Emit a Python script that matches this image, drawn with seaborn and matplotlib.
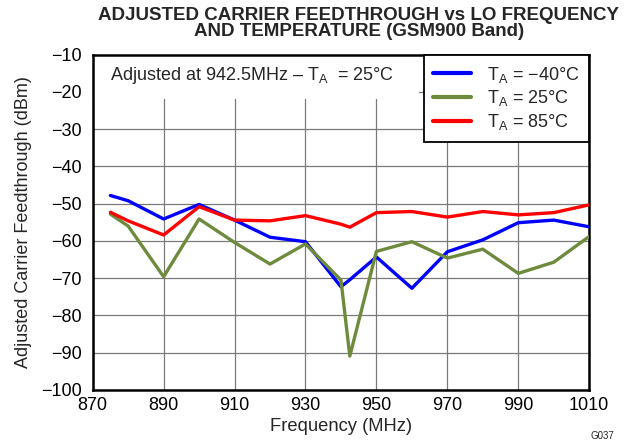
"""
Adjusted carrier feedthrough vs LO frequency and temperature (GSM900 band).
"""

import numpy as np
import pandas as pd
import matplotlib
matplotlib.use('Agg')
import matplotlib.pyplot as plt
import seaborn as sns
from matplotlib.patches import Rectangle

# Data
freq_mhz = [875, 880, 890, 900, 910, 920, 930, 940, 942.5, 950, 960, 970, 980, 990, 1000, 1010]
cf_m40 = [-47.8, -49.2, -54.1, -50.2, -54.4, -59.0, -60.2, -72.3, -70.4, -64.3,
          -72.7, -62.9, -59.7, -55.1, -54.4, -56.2]
cf_25 = [-52.8, -56.0, -69.6, -54.1, -60.4, -66.2, -60.8, -70.5, -90.9, -62.8,
         -60.2, -64.6, -62.2, -68.7, -65.7, -58.8]
cf_85 = [-52.3, -54.6, -58.4, -50.8, -54.4, -54.6, -53.2, -55.5, -56.3, -52.4,
         -52.1, -53.6, -52.1, -53.0, -52.4, -50.3]

series_labels = [r'T$_\mathregular{A}$ = −40°C', r'T$_\mathregular{A}$ = 25°C', r'T$_\mathregular{A}$ = 85°C']
series_colors = ['#0000FF', '#6E8B3D', '#FF0000']
x_ticks = [870, 890, 910, 930, 950, 970, 990, 1010]
y_ticks = [-100, -90, -80, -70, -60, -50, -40, -30, -20, -10]

# Long-form table for seaborn
df = pd.concat([
    pd.DataFrame({'freq': freq_mhz, 'cf': vals, 'temp': lab})
    for vals, lab in zip([cf_m40, cf_25, cf_85], series_labels)
], ignore_index=True)

sns.set_style('white')
plt.rcParams['font.family'] = ['Liberation Sans', 'DejaVu Sans']
plt.rcParams['mathtext.fontset'] = 'custom'
plt.rcParams['mathtext.rm'] = 'Liberation Sans'
plt.rcParams['mathtext.it'] = 'Liberation Sans:italic'
plt.rcParams['mathtext.bf'] = 'Liberation Sans:bold'

fig = plt.figure(figsize=(6.37, 4.46), dpi=100)
ax = fig.add_axes([0.1455, 0.1256, 0.7795, 0.7518])

sns.lineplot(data=df, x='freq', y='cf', hue='temp', hue_order=series_labels,
             palette=series_colors, linewidth=2.4, ax=ax, sort=False, zorder=3)

ax.set_xlim(870, 1010)
ax.set_ylim(-100, -10)
ax.set_xticks(x_ticks)
ax.set_yticks(y_ticks)
ax.tick_params(axis='both', labelsize=13, length=0, colors='black')
ax.tick_params(axis='x', pad=5)
ax.tick_params(axis='y', pad=8)
ax.grid(True, color='#7a7a7a', linewidth=0.9, zorder=0)
ax.set_axisbelow(True)
for sp in ax.spines.values():
    sp.set_color('black')
    sp.set_linewidth(1.8)

ax.set_xlabel('Frequency (MHz)', fontsize=13.2, labelpad=3)
ax.set_ylabel('Adjusted Carrier Feedthrough (dBm)', fontsize=13, labelpad=6)

# White panel behind the note in the top-left corner
ax.add_patch(Rectangle((0, 0.868), 0.657, 0.132, transform=ax.transAxes,
                       facecolor='white', edgecolor='none', zorder=2))
ax.text(0.035, 0.925, r'Adjusted at 942.5MHz – T$_\mathregular{A}$  = 25°C',
        transform=ax.transAxes, fontsize=13, va='baseline', ha='left', zorder=4)

leg = ax.legend(loc='upper right', borderaxespad=0, fontsize=13, frameon=True,
                fancybox=False, handlelength=2.1, handletextpad=0.85,
                labelspacing=0.2, borderpad=0.55)
leg.get_frame().set_edgecolor('black')
leg.get_frame().set_linewidth(1.3)
leg.get_frame().set_alpha(1)
for line in leg.get_lines():
    line.set_linewidth(3)

fig.text(0.563, 0.985, 'ADJUSTED CARRIER FEEDTHROUGH vs LO FREQUENCY\nAND TEMPERATURE (GSM900 Band)',
         ha='center', va='top', fontsize=13.5, fontweight='bold', linespacing=0.95)
fig.text(0.945, 0.012, 'G037', fontsize=7, ha='center', va='bottom')

fig.savefig('out.png', dpi=100)
